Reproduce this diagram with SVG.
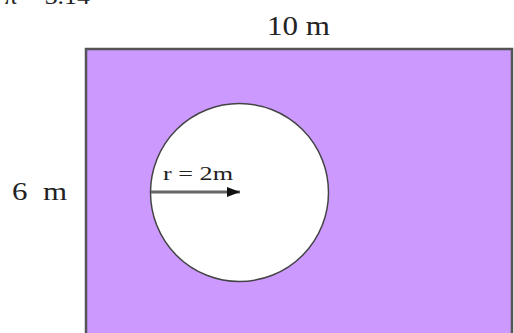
<svg xmlns="http://www.w3.org/2000/svg" width="514" height="333" viewBox="0 0 514 333">
<style>
text{font-family:"Liberation Serif","Times New Roman",serif;fill:#222}
</style>
<defs>
<marker id="ah" markerWidth="13" markerHeight="10" refX="13" refY="5" orient="auto" markerUnits="userSpaceOnUse">
<path d="M0,0 L13,5 L0,10 z" fill="#111"/>
</marker>
</defs>
<rect width="514" height="333" fill="#fff"/>
<text x="4" y="4" font-size="24" textLength="86" lengthAdjust="spacingAndGlyphs">π = 3.14</text>
<g id="rect">
<rect x="86" y="49" width="426" height="300" fill="#CC99FF" stroke="#555" stroke-width="2.5"/>
</g>
<g id="circle">
<circle cx="239.5" cy="192.5" r="89" fill="#fff" stroke="#444" stroke-width="1.5"/>
</g>
<g id="connectors">
<line x1="151" y1="192" x2="240" y2="192" stroke="#666" stroke-width="3" marker-end="url(#ah)"/>
</g>
<g id="labels">
<text x="267" y="35" font-size="27" textLength="63" lengthAdjust="spacingAndGlyphs">10 m</text>
<text x="12" y="200" font-size="25" xml:space="preserve" textLength="55" lengthAdjust="spacingAndGlyphs">6  m</text>
<text x="163" y="180" font-size="19" textLength="70" lengthAdjust="spacingAndGlyphs">r = 2m</text>
</g>
</svg>
